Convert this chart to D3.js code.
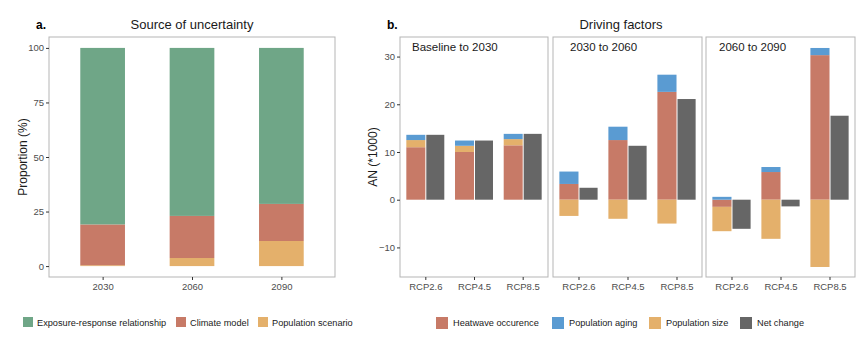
<!DOCTYPE html>
<html>
<head>
<meta charset="utf-8">
<script src="https://cdn.jsdelivr.net/npm/d3@7"></script>
<style>
  body { margin: 0; background: #fff; }
  svg { font-family: "Liberation Sans", Arial, sans-serif; }
</style>
</head>
<body>
<svg id="chart" width="868" height="342"></svg>
<script>
// panel a data
const years = ["2030", "2060", "2090"];
const exposureResponse = [80.9, 77.0, 71.5];
const climateModel = [18.7, 19.3, 17.0];
const populationScenario = [0.4, 3.7, 11.5];
const proportionTicks = [0, 25, 50, 75, 100];

// panel b data
const periods = ["Baseline to 2030", "2030 to 2060", "2060 to 2090"];
const scenarios = ["RCP2.6", "RCP4.5", "RCP8.5"];
const heatwave = [
  [11.0, 10.0, 11.4],
  [3.3, 12.5, 22.6],
  [-1.5, 5.8, 30.3],
];
const populationSize = [
  [1.5, 1.3, 1.3],
  [-3.4, -4.0, -5.0],
  [-5.1, -8.2, -14.1],
];
const populationAging = [
  [1.1, 1.1, 1.1],
  [2.6, 2.8, 3.6],
  [0.6, 1.05, 1.5],
];
const netChange = [
  [13.6, 12.4, 13.8],
  [2.5, 11.3, 21.1],
  [-6.1, -1.4, 17.6],
];
const anTicks = [-10, 0, 10, 20, 30];

const colors = {
  exposure: "#6fa687",
  climate: "#c77a67",
  scenario: "#e4b06b",
  heatwave: "#c77a67",
  aging: "#5a9bd2",
  size: "#e4b06b",
  net: "#666666",
};

const svg = d3.select("#chart");
const frameColor = "#b5b5b5";
const tickColor = "#4d4d4d";

drawUncertainty();
drawDrivers();

function drawUncertainty() {
  const left = 49, right = 335, top = 37, bottom = 277;

  const x = d3.scalePoint().domain(years).range([left, right]).padding(0.6);
  const y = d3.scaleLinear().domain([-5, 105]).range([bottom, top]);
  const barW = x.step() * 0.5;

  const rows = years.map((yr, i) => ({
    year: yr,
    scenario: populationScenario[i],
    climate: climateModel[i],
    exposure: exposureResponse[i],
  }));
  const keys = ["scenario", "climate", "exposure"];
  const keyColor = { scenario: colors.scenario, climate: colors.climate, exposure: colors.exposure };
  const series = d3.stack().keys(keys)(rows);

  const g = svg.append("g");

  g.selectAll(".layer")
    .data(series)
    .join("g")
    .attr("fill", (d) => keyColor[d.key])
    .selectAll("rect")
    .data((d) => d)
    .join("rect")
    .attr("x", (d) => x(d.data.year) - barW / 2)
    .attr("y", (d) => y(d[1]))
    .attr("width", barW)
    .attr("height", (d) => y(d[0]) - y(d[1]));

  g.append("rect")
    .attr("x", left).attr("y", top)
    .attr("width", right - left).attr("height", bottom - top)
    .attr("fill", "none").attr("stroke", frameColor);

  const yAxis = g.append("g")
    .attr("transform", `translate(${left},0)`)
    .call(d3.axisLeft(y).tickValues(proportionTicks).tickSize(3).tickPadding(2));
  const xAxis = g.append("g")
    .attr("transform", `translate(0,${bottom})`)
    .call(d3.axisBottom(x).tickSize(3).tickPadding(3));
  [yAxis, xAxis].forEach((a) => {
    a.select(".domain").remove();
    a.selectAll("line").attr("stroke", "#333");
    a.selectAll("text").attr("fill", tickColor).style("font-size", "9.5px");
  });

  g.append("text")
    .attr("transform", `translate(27,${(top + bottom) / 2}) rotate(-90)`)
    .attr("text-anchor", "middle")
    .style("font-size", "12px")
    .attr("fill", "#1a1a1a")
    .text("Proportion (%)");

  g.append("text").attr("x", 36).attr("y", 29)
    .style("font-size", "12px").style("font-weight", "bold")
    .text("a.");
  g.append("text").attr("x", (left + right) / 2).attr("y", 29)
    .attr("text-anchor", "middle").style("font-size", "13px")
    .attr("fill", "#1a1a1a")
    .text("Source of uncertainty");

  const legendItems = [
    { label: "Exposure-response relationship", color: colors.exposure, x: 23 },
    { label: "Climate model", color: colors.climate, x: 176 },
    { label: "Population scenario", color: colors.scenario, x: 258 },
  ];
  const legend = g.append("g");
  legend.selectAll("rect")
    .data(legendItems)
    .join("rect")
    .attr("x", (d) => d.x).attr("y", 317)
    .attr("width", 10).attr("height", 10)
    .attr("fill", (d) => d.color);
  legend.selectAll("text")
    .data(legendItems)
    .join("text")
    .attr("x", (d) => d.x + 14).attr("y", 325.5)
    .style("font-size", "9.2px")
    .attr("fill", "#1a1a1a")
    .text((d) => d.label);
}

function drawDrivers() {
  const top = 37, bottom = 277;
  const panelX = [[400, 548], [553, 702], [706, 855]];
  const labelOffset = [12, 17, 13];

  const y = d3.scaleLinear().domain([-16.2, 34.1]).range([bottom, top]);
  const keys = ["heatwave", "size", "aging"];

  const g = svg.append("g");

  periods.forEach((period, p) => {
    const [x0, x1] = panelX[p];
    const x = d3.scalePoint().domain(scenarios).range([x0, x1]).padding(0.52);
    const barW = x.step() * 0.39;

    const rows = scenarios.map((s, i) => ({
      scenario: s,
      heatwave: heatwave[p][i],
      size: populationSize[p][i],
      aging: populationAging[p][i],
      net: netChange[p][i],
    }));
    const series = d3.stack().keys(keys).offset(d3.stackOffsetDiverging)(rows);

    const pg = g.append("g");

    pg.selectAll(".layer")
      .data(series)
      .join("g")
      .attr("fill", (d) => colors[d.key])
      .selectAll("rect")
      .data((d) => d)
      .join("rect")
      .attr("x", (d) => x(d.data.scenario) - barW)
      .attr("y", (d) => y(Math.max(d[0], d[1])))
      .attr("width", barW)
      .attr("height", (d) => Math.abs(y(d[0]) - y(d[1])));

    pg.selectAll(".net")
      .data(rows)
      .join("rect")
      .attr("class", "net")
      .attr("x", (d) => x(d.scenario) + 1)
      .attr("y", (d) => y(Math.max(0, d.net)))
      .attr("width", barW - 1)
      .attr("height", (d) => Math.abs(y(0) - y(d.net)))
      .attr("fill", colors.net);

    pg.append("rect")
      .attr("x", x0).attr("y", top)
      .attr("width", x1 - x0).attr("height", bottom - top)
      .attr("fill", "none").attr("stroke", frameColor);

    pg.append("text")
      .attr("x", x0 + labelOffset[p]).attr("y", 51)
      .style("font-size", "11.5px")
      .attr("fill", "#1a1a1a")
      .text(period);

    const xAxis = pg.append("g")
      .attr("transform", `translate(0,${bottom})`)
      .call(d3.axisBottom(x).tickSize(3).tickPadding(3));
    xAxis.select(".domain").remove();
    xAxis.selectAll("line").attr("stroke", "#333");
    xAxis.selectAll("text").attr("fill", tickColor).style("font-size", "9.5px");
  });

  const yAxis = g.append("g")
    .attr("transform", `translate(${panelX[0][0]},0)`)
    .call(d3.axisLeft(y).tickValues(anTicks).tickSize(3).tickPadding(2));
  yAxis.select(".domain").remove();
  yAxis.selectAll("line").attr("stroke", "#333");
  yAxis.selectAll("text").attr("fill", tickColor).style("font-size", "9.5px");

  g.append("text")
    .attr("transform", `translate(377,${(top + bottom) / 2}) rotate(-90)`)
    .attr("text-anchor", "middle")
    .style("font-size", "12px")
    .attr("fill", "#1a1a1a")
    .text("AN (*1000)");

  g.append("text").attr("x", 387).attr("y", 29)
    .style("font-size", "12px").style("font-weight", "bold")
    .text("b.");
  g.append("text").attr("x", 621).attr("y", 29)
    .attr("text-anchor", "middle").style("font-size", "13px")
    .attr("fill", "#1a1a1a")
    .text("Driving factors");

  const legendItems = [
    { label: "Heatwave occurence", color: colors.heatwave, x: 436 },
    { label: "Population aging", color: colors.aging, x: 552 },
    { label: "Population size", color: colors.size, x: 649 },
    { label: "Net change", color: colors.net, x: 740 },
  ];
  const legend = g.append("g");
  legend.selectAll("rect")
    .data(legendItems)
    .join("rect")
    .attr("x", (d) => d.x).attr("y", 317)
    .attr("width", 12).attr("height", 12)
    .attr("fill", (d) => d.color);
  legend.selectAll("text")
    .data(legendItems)
    .join("text")
    .attr("x", (d) => d.x + 17).attr("y", 326)
    .style("font-size", "9.2px")
    .attr("fill", "#1a1a1a")
    .text((d) => d.label);
}
</script>
</body>
</html>
